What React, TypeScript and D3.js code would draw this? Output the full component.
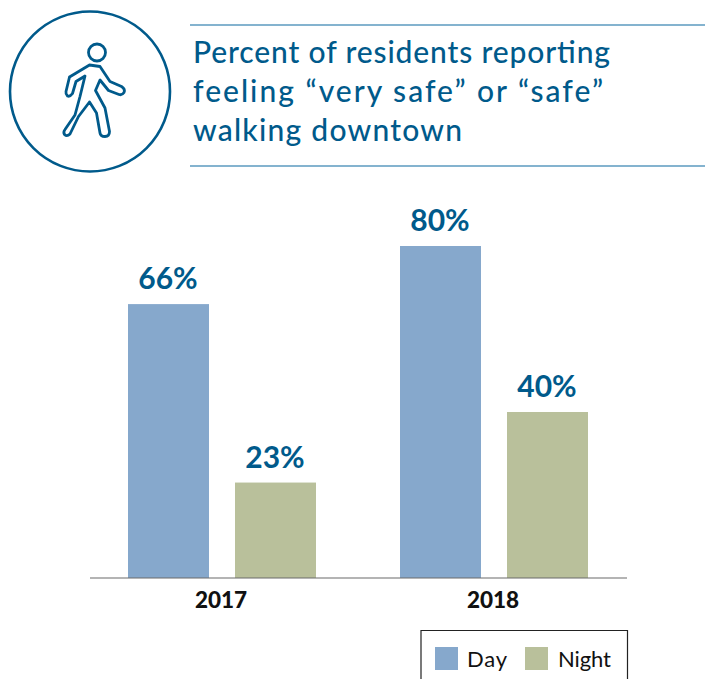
import React from "react";
import * as d3 from "d3";

const years = ["2017", "2018"];
const seriesNames = ["Day", "Night"];
const dayValues = [66, 80];
const nightValues = [23, 40];
const titleLines = ["Percent of residents reporting", "feeling “very safe” or “safe”", "walking downtown"];

const FONT = "Lato, 'Noto Sans', sans-serif";
const BLUE = "#005a8b";
const RULE = "#5b9abf";
const colors: Record<string, string> = { Day: "#86a8cc", Night: "#b9c09b" };
const titleWidths = [417, 410, 269];
const legendWidths = [40, 53];

const x0 = d3.scaleBand<string>().domain(years).range([86, 630]);
const x1 = d3.scaleBand<string>().domain(seriesNames).range([-94, 94]).paddingInner(26 / 107);
const y = d3.scaleLinear().domain([0, 80]).range([578, 246]);

const walker =
  "M89.5 65 L100 66.5 L110 81.5 L121.5 86.5 Q125.5 89 124 92.5 Q122 95.5 119 94.5 L108.5 90.5 L100 80 L95.5 90.5 L105 108 L109.5 131.5 Q109.5 136.5 105 136.5 Q100.5 136.5 100 133 L96.5 113 L89.5 102 L78.5 116.5 L70 134 Q67 137 64.5 134.5 Q63 132 65 129.5 L75 115 L80 96.5 L85 76 L76 81.5 L72.5 93.5 Q70 97 67.5 96 Q65.5 94 66 91.5 L69.5 77 Z";

export default function App() {
  const rows = years.flatMap((yr, i) => [
    { yr, s: "Day", v: dayValues[i] },
    { yr, s: "Night", v: nightValues[i] },
  ]);
  return (
    <svg width={705} height={679} style={{ position: "absolute", left: 0, top: 0 }} fontFamily={FONT}>
      <circle cx={90} cy={91.5} r={80} fill="none" stroke={BLUE} strokeWidth={2.6} />
      <circle cx={97} cy={52.5} r={8.5} fill="none" stroke={BLUE} strokeWidth={2.8} />
      <path d={walker} fill="none" stroke={BLUE} strokeWidth={2.8} strokeLinejoin="round" />

      <line x1={190} x2={705} y1={25} y2={25} stroke={RULE} strokeWidth={1.4} />
      <line x1={190} x2={705} y1={166} y2={166} stroke={RULE} strokeWidth={1.4} />
      {titleLines.map((t, i) => (
        <text key={t} x={193} y={63 + i * 39} fontSize={30} fontWeight={500} fill={BLUE} textLength={titleWidths[i]} lengthAdjust="spacing">{t}</text>
      ))}

      {rows.map((d) => {
        const bx = x0(d.yr)! + x0.bandwidth() / 2 + x1(d.s)!;
        return (
          <g key={d.yr + d.s}>
            <rect x={bx} y={y(d.v)} width={x1.bandwidth()} height={y(0) - y(d.v)} fill={colors[d.s]} />
            <text x={bx + x1.bandwidth() / 2 - 0.5} y={y(d.v) - 15} textAnchor="middle" fontSize={30} fontWeight={700} fill={BLUE}>{d.v}%</text>
          </g>
        );
      })}

      <line x1={90} x2={627} y1={578} y2={578} stroke="#6b6b6b" strokeWidth={1.2} />
      {years.map((yr) => (
        <text key={yr} x={x0(yr)! + x0.bandwidth() / 2 - 1} y={608} textAnchor="middle" fontSize={22.5} fontWeight={900} fill="#111">{yr}</text>
      ))}

      <path d="M421 679 V630.5 H627.5 V679" fill="none" stroke="#222" strokeWidth={1.2} />
      {seriesNames.map((s, i) => {
        const lx = d3.scalePoint<string>().domain(seriesNames).range([435, 525])(s)!;
        return (
          <g key={s}>
            <rect x={lx} y={647} width={23} height={23} fill={colors[s]} />
            <text x={lx + 32 + i} y={667} fontSize={22} fill="#111" textLength={legendWidths[i]} lengthAdjust="spacing">{s}</text>
          </g>
        );
      })}
    </svg>
  );
}
